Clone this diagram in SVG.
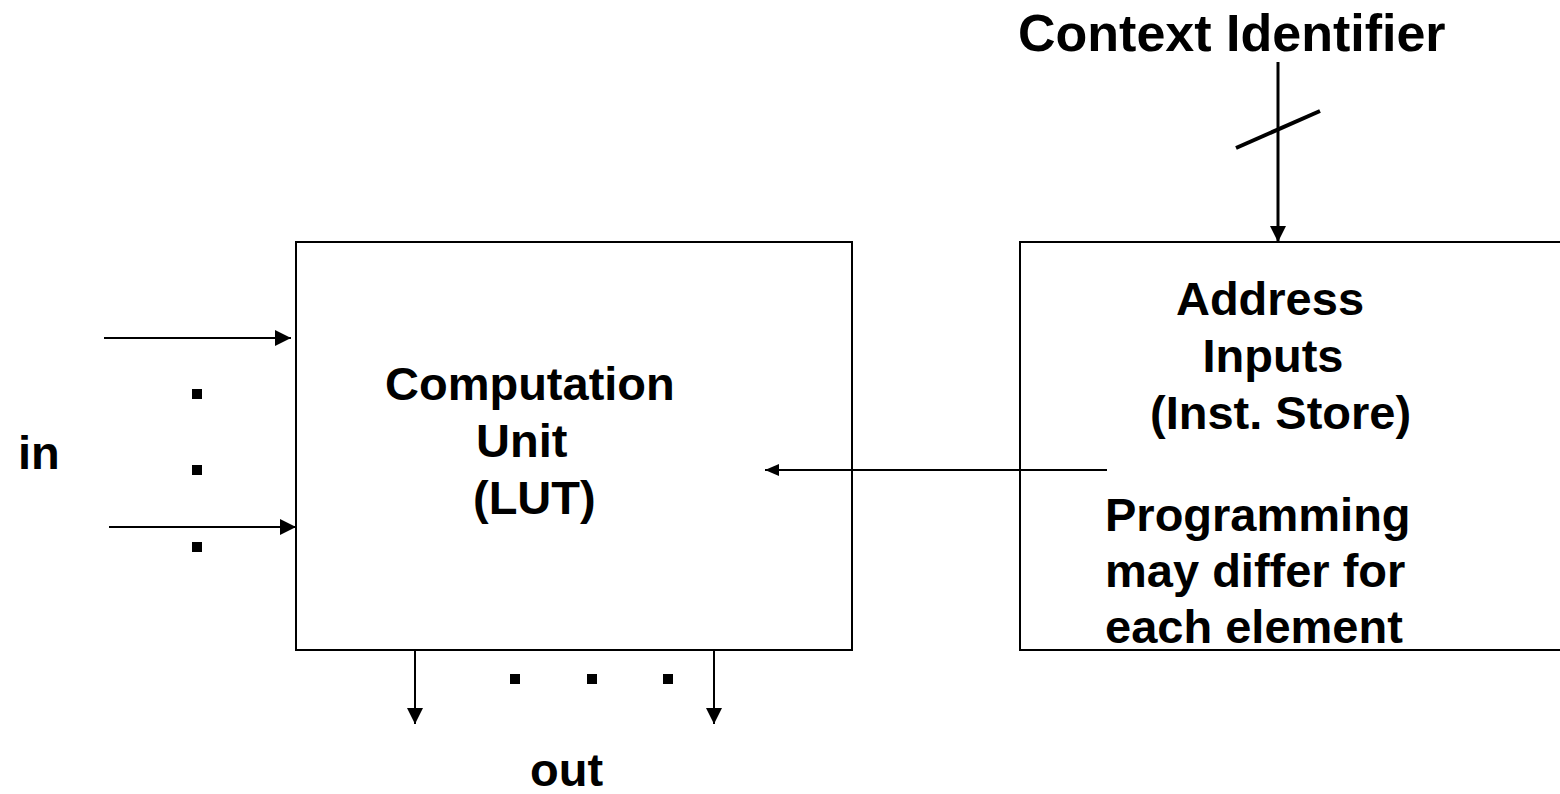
<svg xmlns="http://www.w3.org/2000/svg" width="1560" height="794" viewBox="0 0 1560 794">
  <style>
    .lbl { font-family: "Liberation Sans", Arial, Helvetica, sans-serif; font-weight: bold; font-size: 47px; fill: #000; }
    .box { fill: #fff; stroke: #000; stroke-width: 2; }
    .wire { stroke: #000; stroke-width: 2; fill: none; }
    .bus { stroke: #000; stroke-width: 3; fill: none; }
    .dot { fill: #000; }
  </style>
  <defs>
    <marker id="arrow" viewBox="0 0 16 16" refX="16" refY="8" markerWidth="16" markerHeight="16" markerUnits="userSpaceOnUse" orient="auto">
      <path d="M0,0 L16,8 L0,16 Z" fill="#000"/>
    </marker>
    <marker id="arrowSmall" viewBox="0 0 14 12" refX="14" refY="6" markerWidth="14" markerHeight="12" markerUnits="userSpaceOnUse" orient="auto">
      <path d="M0,0 L14,6 L0,12 Z" fill="#000"/>
    </marker>
  </defs>

  <rect width="1560" height="794" fill="#fff"/>

  <!-- Computation unit -->
  <g id="computation-unit">
    <rect class="box" x="296" y="242" width="556" height="408"/>
    <text class="lbl" x="385" y="400">Computation</text>
    <text class="lbl" x="476" y="457">Unit</text>
    <text class="lbl" x="473" y="514">(LUT)</text>
  </g>

  <!-- Instruction store -->
  <g id="inst-store">
    <rect class="box" x="1020" y="242" width="560" height="408"/>
    <text class="lbl" x="1270" y="315" text-anchor="middle">Address</text>
    <text class="lbl" x="1273" y="372" text-anchor="middle">Inputs</text>
    <text class="lbl" x="1150" y="429">(Inst. Store)</text>
    <text class="lbl" x="1105" y="531">Programming</text>
    <text class="lbl" x="1105" y="587">may differ for</text>
    <text class="lbl" x="1105" y="643">each element</text>
  </g>

  <!-- Free labels -->
  <g id="context-label">
    <text class="lbl" x="1018" y="51" style="font-size:52px">Context Identifier</text>
  </g>
  <g id="in-label">
    <text class="lbl" x="18" y="469">in</text>
  </g>
  <g id="out-label">
    <text class="lbl" x="530" y="786">out</text>
  </g>

  <!-- Ellipsis dots -->
  <g id="in-dots">
    <rect class="dot" x="192" y="389" width="10" height="10"/>
    <rect class="dot" x="192" y="465" width="10" height="10"/>
    <rect class="dot" x="192" y="542" width="10" height="10"/>
  </g>
  <g id="out-dots">
    <rect class="dot" x="510" y="674" width="10" height="10"/>
    <rect class="dot" x="587" y="674" width="10" height="10"/>
    <rect class="dot" x="663" y="674" width="10" height="10"/>
  </g>

  <!-- Connectors -->
  <g id="connectors">
    <line class="wire" x1="104" y1="338" x2="291" y2="338" marker-end="url(#arrow)"/>
    <line class="wire" x1="109" y1="527" x2="296" y2="527" marker-end="url(#arrow)"/>
    <line class="wire" x1="415" y1="650" x2="415" y2="724" marker-end="url(#arrow)"/>
    <line class="wire" x1="714" y1="650" x2="714" y2="724" marker-end="url(#arrow)"/>
    <line class="wire" x1="1107" y1="470" x2="765" y2="470" marker-end="url(#arrowSmall)"/>
    <line class="bus" x1="1278" y1="62" x2="1278" y2="242" marker-end="url(#arrow)"/>
    <line class="bus" x1="1236" y1="148" x2="1320" y2="111" style="stroke-width:4"/>
  </g>
</svg>
